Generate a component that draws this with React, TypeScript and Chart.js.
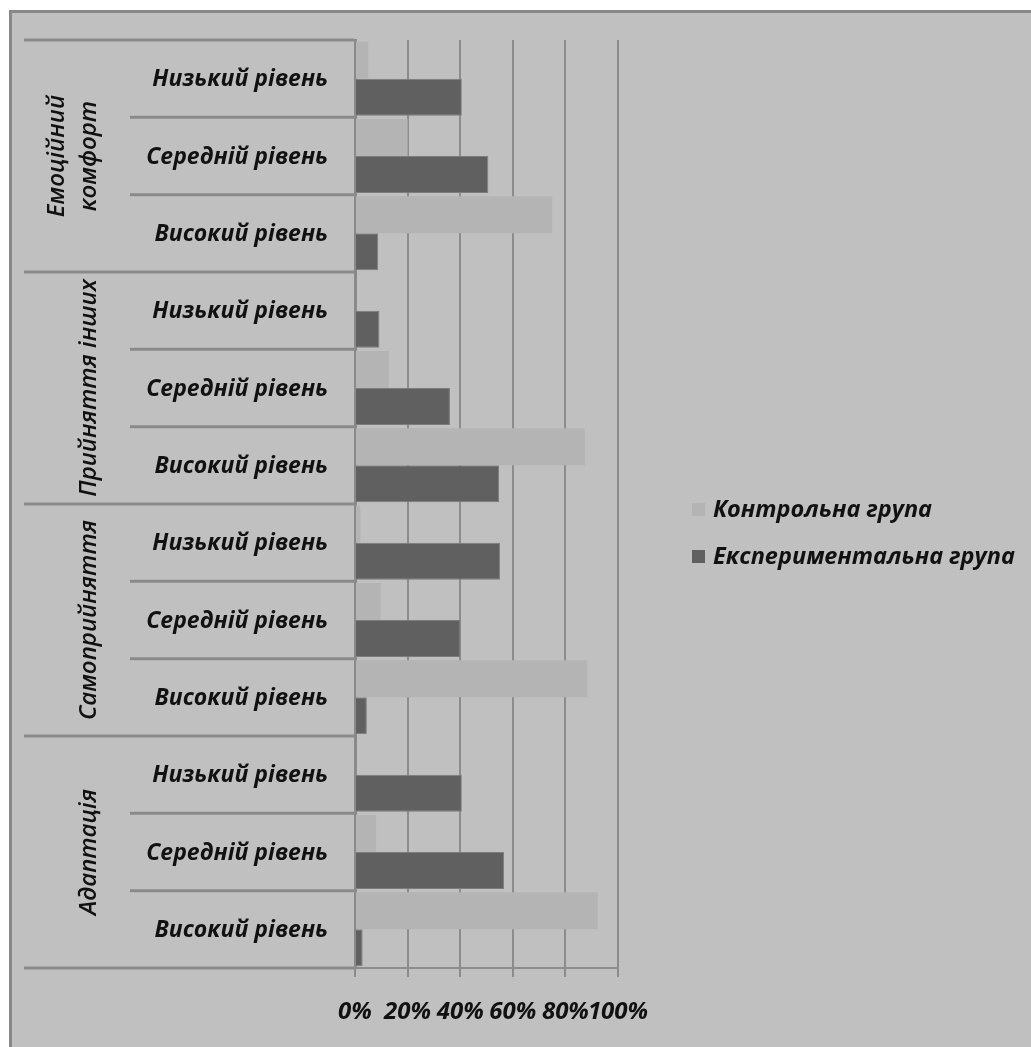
import React, { useEffect, useRef } from "react";
import { Chart, registerables } from "chart.js";

Chart.register(...registerables);

// ---- data ----
const categories = [
  "Низький рівень", "Середній рівень", "Високий рівень",
  "Низький рівень", "Середній рівень", "Високий рівень",
  "Низький рівень", "Середній рівень", "Високий рівень",
  "Низький рівень", "Середній рівень", "Високий рівень",
];
const groupNames = [
  ["Емоційний", "комфорт"],
  ["Прийняття інших"],
  ["Самоприйняття"],
  ["Адаптація"],
];
const categoryGroup = [0, 0, 0, 1, 1, 1, 2, 2, 2, 3, 3, 3];
const seriesNames = ["Контрольна група", "Експериментальна група"];
const controlValues = [5, 20, 75, 0, 12.9, 87.4, 2.1, 9.8, 88.4, 0, 8, 92.3];
const experimentalValues = [40.6, 50.7, 8.8, 9.3, 36.1, 54.8, 55.2, 40, 4.5, 40.6, 56.7, 2.9];
const xTickValues = [0, 20, 40, 60, 80, 100];

// ---- styles ----
const FONT = '"Open Sans", "Noto Sans", sans-serif';
const BG = "#c0c0c0";
const LIGHT = "#b4b4b4";
const DARK = "#606060";
const LINE = "#8a8a8a";

const groupAxisPlugin = {
  id: "groupAxis",
  afterDraw(chart: any) {
    const { ctx, chartArea, scales } = chart;
    const y = scales.y;
    const n = chart.data.labels.length;
    const centers: number[] = [];
    for (let i = 0; i < n; i++) centers.push(y.getPixelForValue(i));
    const bounds: number[] = [];
    for (let i = 0; i <= n; i++) {
      if (i === 0) bounds.push(chartArea.top);
      else if (i === n) bounds.push(chartArea.bottom);
      else bounds.push((centers[i - 1] + centers[i]) / 2);
    }
    const left = chartArea.left;
    ctx.save();
    // separators
    ctx.strokeStyle = LINE;
    ctx.lineWidth = 3;
    for (let i = 0; i <= n; i++) {
      const isGroup = i === 0 || i === n || categoryGroup[i] !== categoryGroup[i - 1];
      const x0 = isGroup ? left - 331 : left - 225;
      ctx.beginPath();
      ctx.moveTo(x0, bounds[i]);
      ctx.lineTo(left - 1, bounds[i]);
      ctx.stroke();
    }
    // level labels
    ctx.fillStyle = "#111";
    ctx.font = `italic bold 23px ${FONT}`;
    ctx.textAlign = "right";
    ctx.textBaseline = "middle";
    for (let i = 0; i < n; i++) {
      ctx.fillText(chart.data.labels[i], left - 27, centers[i] + 1);
    }
    // group labels (rotated)
    ctx.font = `italic 600 24px ${FONT}`;
    ctx.textAlign = "center";
    groupNames.forEach((lines, g) => {
      let first = -1, last = -1;
      categoryGroup.forEach((cg, i) => {
        if (cg === g) { if (first < 0) first = i; last = i; }
      });
      const cy = (bounds[first] + bounds[last + 1]) / 2;
      ctx.save();
      ctx.translate(left - 266, cy);
      ctx.rotate(-Math.PI / 2);
      lines.forEach((line, k) => {
        ctx.fillText(line, 0, (k - (lines.length - 1)) * 32);
      });
      ctx.restore();
    });
    // legend
    const lx = chartArea.right + 74;
    const midY = (chartArea.top + chartArea.bottom) / 2;
    const itemY = [midY + 5.5, midY + 52.5];
    ctx.textAlign = "left";
    ctx.font = `italic bold 23.5px ${FONT}`;
    chart.data.datasets.forEach((ds: any, i: number) => {
      ctx.fillStyle = ds.backgroundColor;
      ctx.fillRect(lx, itemY[i] - 6.5, 13, 13);
      ctx.fillStyle = "#111";
      ctx.fillText(ds.label, lx + 21, itemY[i] + 1);
    });
    ctx.restore();
  },
};

export default function App() {
  const ref = useRef<HTMLCanvasElement>(null);
  useEffect(() => {
    if (!ref.current) return;
    const chart = new Chart(ref.current, {
      type: "bar",
      data: {
        labels: categories,
        datasets: [
          {
            label: seriesNames[0],
            data: controlValues,
            backgroundColor: LIGHT,
            borderWidth: 0,
            categoryPercentage: 0.957,
            barPercentage: 1,
          },
          {
            label: seriesNames[1],
            data: experimentalValues,
            backgroundColor: DARK,
            borderColor: "#7c7c7c",
            borderWidth: 1,
            categoryPercentage: 0.957,
            barPercentage: 1,
          },
        ],
      },
      options: {
        indexAxis: "y",
        responsive: false,
        maintainAspectRatio: false,
        animation: false,
        layout: { padding: { left: 355, right: 413, top: 40, bottom: 0 } },
        plugins: { legend: { display: false }, tooltip: { enabled: false } },
        scales: {
          x: {
            type: "linear",
            position: "bottom",
            min: 0,
            max: 100,
            afterBuildTicks: (s: any) => {
              s.ticks = xTickValues.map((v) => ({ value: v }));
            },
            ticks: {
              callback: (v: any) => `${v}%`,
              color: "#111",
              font: { family: FONT, size: 24, style: "italic", weight: "bold" },
              padding: 21,
              autoSkip: false,
              maxRotation: 0,
              minRotation: 0,
            },
            grid: { color: "#8c8c8c", lineWidth: 2, tickLength: 9, drawTicks: true },
            border: { color: "#8c8c8c", width: 2 },
            afterFit: (s: any) => {
              s.height = 79;
            },
          },
          y: {
            type: "category",
            ticks: { display: false },
            grid: { display: false },
            border: { color: LINE, width: 3 },
            afterFit: (s: any) => {
              s.width = 0;
            },
          },
        },
      } as any,
      plugins: [groupAxisPlugin],
    });
    return () => chart.destroy();
  }, []);

  return (
    <div
      style={{
        position: "fixed",
        left: 0,
        top: 0,
        width: 1031,
        height: 1047,
        overflow: "hidden",
        background: "#fff",
      }}
    >
      <div
        style={{
          position: "absolute",
          left: 9,
          top: 10,
          width: 1100,
          height: 1100,
          background: BG,
          borderTop: "3px solid #888",
          borderLeft: "3px solid #888",
        }}
      />
      <canvas
        ref={ref}
        width={1031}
        height={1047}
        style={{ position: "absolute", left: 0, top: 0, display: "block" }}
      />
    </div>
  );
}
